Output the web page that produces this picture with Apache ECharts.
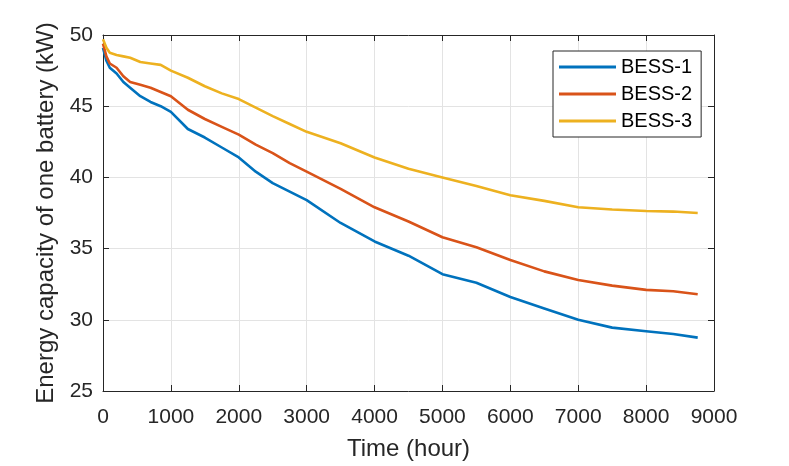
<!DOCTYPE html>
<html>
<head>
<meta charset="utf-8">
<script src="https://cdn.jsdelivr.net/npm/echarts@6/dist/echarts.min.js"></script>
<style>
html,body{margin:0;padding:0;background:#fff;}
#chart{width:789px;height:466px;}
</style>
</head>
<body>
<div id="chart"></div>
<script>
var hours = [0, 50, 100, 200, 300, 400, 550, 700, 850, 1000, 1250, 1500, 1750, 2000, 2250, 2500, 2750, 3000, 3500, 4000, 4500, 5000, 5500, 6000, 6500, 7000, 7500, 8000, 8400, 8760];
var bess1 = [49.1, 48.2, 47.7, 47.3, 46.7, 46.3, 45.7, 45.3, 45.0, 44.6, 43.4, 42.8, 42.1, 41.4, 40.4, 39.6, 39.0, 38.4, 36.8, 35.5, 34.5, 33.2, 32.6, 31.6, 30.8, 30.0, 29.45, 29.2, 29.0, 28.75];
var bess2 = [49.4, 48.5, 48.0, 47.7, 47.1, 46.7, 46.5, 46.3, 46.0, 45.7, 44.75, 44.1, 43.55, 43.0, 42.3, 41.7, 41.0, 40.4, 39.2, 37.9, 36.9, 35.8, 35.1, 34.2, 33.4, 32.8, 32.4, 32.1, 32.0, 31.8];
var bess3 = [49.7, 49.1, 48.75, 48.6, 48.5, 48.4, 48.1, 48.0, 47.9, 47.5, 47.0, 46.4, 45.9, 45.5, 44.9, 44.3, 43.75, 43.2, 42.4, 41.4, 40.6, 40.0, 39.4, 38.75, 38.35, 37.9, 37.75, 37.64, 37.6, 37.5];
var seriesNames = ['BESS-1', 'BESS-2', 'BESS-3'];
var seriesColors = ['#0072BD', '#D95319', '#EDB120'];
var xTicks = {min: 0, max: 9000, interval: 1000};
var yTicks = {min: 25, max: 50, interval: 5};

function pairs(xs, ys) { return xs.map(function (x, i) { return [x, ys[i]]; }); }
var allValues = [bess1, bess2, bess3];

var FONT = 'Liberation Sans, Arial, Helvetica, sans-serif';
var AX = '#262626';

var chart = echarts.init(document.getElementById('chart'), null, {renderer: 'canvas'});
var option = {
  animation: false,
  backgroundColor: '#ffffff',
  grid: {left: 103, right: 75, top: 35, bottom: 71, containLabel: false},
  legend: {
    orient: 'vertical',
    left: 553, top: 51,
    padding: [6, 9, 6, 6],
    itemGap: 7,
    itemWidth: 57, itemHeight: 3,
    icon: 'rect',
    backgroundColor: '#ffffff',
    borderColor: AX, borderWidth: 1,
    textStyle: {fontFamily: FONT, fontSize: 20, color: '#000'},
    data: seriesNames
  },
  xAxis: [{
    type: 'value', min: xTicks.min, max: xTicks.max, interval: xTicks.interval,
    name: 'Time (hour)', nameLocation: 'middle', nameGap: 46,
    nameTextStyle: {fontFamily: FONT, fontSize: 24, color: AX},
    axisLine: {show: true, lineStyle: {color: AX, width: 1}},
    axisTick: {show: true, inside: true, length: 6, lineStyle: {color: AX}},
    axisLabel: {fontFamily: FONT, fontSize: 21, color: AX, margin: 16,
      formatter: function (v) { return String(v); }},
    splitLine: {show: true, lineStyle: {color: '#e3e3e3', width: 1}}
  }, {
    type: 'value', position: 'top', min: xTicks.min, max: xTicks.max, interval: xTicks.interval,
    axisLine: {show: true, onZero: false, lineStyle: {color: AX, width: 1}},
    axisTick: {show: true, inside: true, length: 6, lineStyle: {color: AX}},
    axisLabel: {show: false}, splitLine: {show: false}
  }],
  yAxis: [{
    type: 'value', min: yTicks.min, max: yTicks.max, interval: yTicks.interval,
    name: 'Energy capacity of one battery (kW)', nameLocation: 'middle', nameGap: 40,
    nameTextStyle: {fontFamily: FONT, fontSize: 24, color: AX},
    axisLine: {show: true, onZero: false, lineStyle: {color: AX, width: 1}},
    axisTick: {show: true, inside: true, length: 6, lineStyle: {color: AX}},
    axisLabel: {fontFamily: FONT, fontSize: 21, color: AX, margin: 10, padding: [6, 0, 0, 0]},
    splitLine: {show: true, lineStyle: {color: '#e3e3e3', width: 1}}
  }, {
    type: 'value', position: 'right', min: yTicks.min, max: yTicks.max, interval: yTicks.interval,
    axisLine: {show: true, onZero: false, lineStyle: {color: AX, width: 1}},
    axisTick: {show: true, inside: true, length: 6, lineStyle: {color: AX}},
    axisLabel: {show: false}, splitLine: {show: false}
  }],
  series: seriesNames.map(function (name, i) {
    return {
      name: name, type: 'line', xAxisIndex: 0, yAxisIndex: 0,
      data: pairs(hours, allValues[i]),
      showSymbol: false, symbol: 'none',
      color: seriesColors[i],
      lineStyle: {width: 2.6, color: seriesColors[i]},
      z: 2 + i
    };
  })
};
chart.setOption(option);
</script>
</body>
</html>
